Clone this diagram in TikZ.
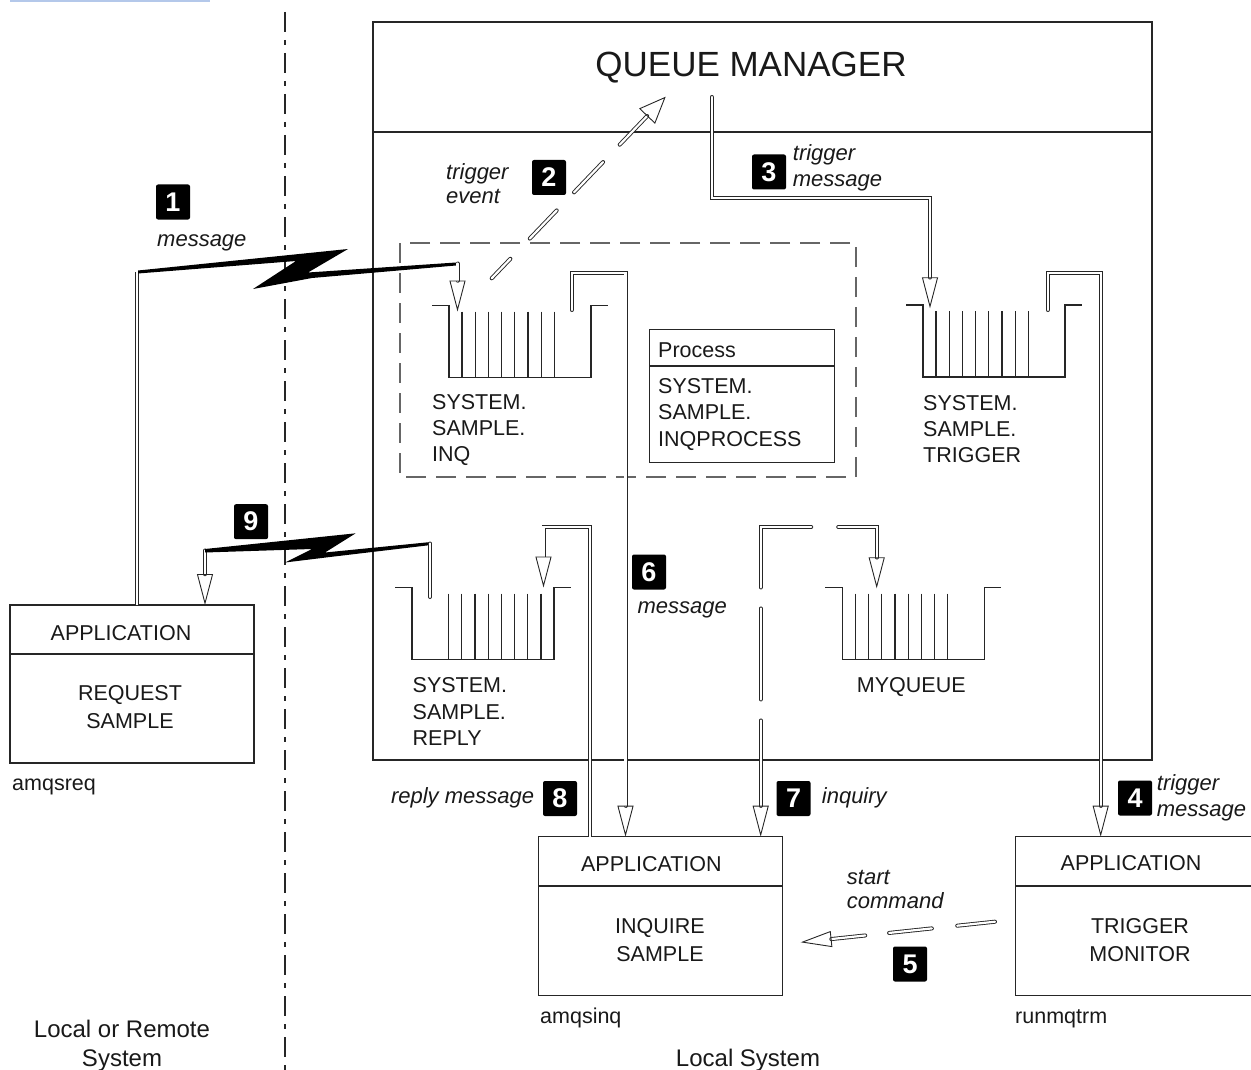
\documentclass[tikz,border=0pt]{standalone}
\usepackage{fontspec}
\setmainfont{Liberation Sans}
\usetikzlibrary{arrows.meta}
\tikzset{
  pics/qleft/.style={code={
    \draw[qline] (-17,0) -- (0,0) -- (0,72) -- (142,72) -- (142,0) -- (159,0);
    \foreach \k in {0,...,7} \draw[qline] (13+13.2*\k,6) -- (13+13.2*\k,72);
  }},
  pics/qright/.style={code={
    \draw[qline] (-17,0) -- (0,0) -- (0,72) -- (142,72) -- (142,0) -- (159,0);
    \foreach \k in {0,...,7} \draw[qline] (129-13.2*\k,6) -- (129-13.2*\k,72);
  }},
}
\begin{document}
\begin{tikzpicture}[x=1pt,y=-1pt,
  qline/.style={line width=1.2pt, draw=black!85},
  appbox/.style={draw=black!85, line width=1.3pt, outer sep=0pt, inner sep=0pt},
  captext/.style={font=\fontsize{21.5}{26}\selectfont, inner sep=0pt, text=black!90},
  itlab/.style={font=\fontsize{22}{26}\selectfont\itshape, inner sep=0pt, text=black!90, anchor=base west},
  bottomtext/.style={font=\fontsize{24}{28}\selectfont, inner sep=0pt, text=black!90, anchor=base},
  dbl/.style={draw=black!85, line width=0.9pt, double=white, double distance=2.2pt, line cap=round},
  hd/.style={-{Triangle[open,length=31pt,width=16pt,line width=0.9pt]}},
  badge/.style={fill=black, rounded corners=2pt, minimum width=34pt, minimum height=35pt, inner sep=0pt, text=white, font=\fontsize{27}{27}\selectfont\bfseries},
]
\useasboundingbox (0,0) rectangle (1251,1070);

% light blue underline at the top
\draw[color={rgb,255:red,180;green,200;blue,234}, line width=1.6pt] (10,0.8) -- (210,0.8);

% dash-dot separator
\coordinate (dd1) at (285,12);
\coordinate (dd2) at (285,1070);
\draw[line width=1.5pt, black!85, dash pattern=on 20pt off 8pt on 5pt off 8pt] (dd1) -- (dd2);

% queue manager box
\node[appbox, minimum width=779pt, minimum height=738pt] (qm) at (762.5,391) {};
\coordinate (qmdiv) at (0,132);
\draw[line width=1.3pt, black!85] (qm.west |- qmdiv) -- (qm.east |- qmdiv);
\node[captext, anchor=base, font=\fontsize{35}{40}\selectfont] (qmt) at (751,76.7) {QUEUE MANAGER};

% dashed group box
\draw[draw=black!60, line width=1.8pt, dash pattern=on 20pt off 10pt] (400,243) rectangle (856,477);

% queues
\pic (inq) at (449,305.7) {qleft};
\pic (trq) at (923,305) {qleft};
\pic (rpq) at (412,587.7) {qright};
\pic (myq) at (842.3,587.7) {qleft};

% process box
\node[appbox, minimum width=185pt, minimum height=133.4pt] (proc) at (741.8,396) {};
\coordinate (procdiv) at (0,366);
\draw[line width=1.3pt, black!85] (proc.west |- procdiv) -- (proc.east |- procdiv);

% application boxes
\node[appbox, minimum width=244pt, minimum height=158pt] (req) at (132,684) {};
\coordinate (reqdiv) at (0,654);
\draw[line width=1.3pt, black!85] (req.west |- reqdiv) -- (req.east |- reqdiv);
\node[appbox, minimum width=244pt, minimum height=159pt] (inqa) at (660.3,916.2) {};
\coordinate (appdiv) at (0,886);
\draw[line width=1.3pt, black!85] (inqa.west |- appdiv) -- (inqa.east |- appdiv);
\node[appbox, minimum width=244pt, minimum height=159pt] (trg) at (1137.3,916.2) {};
\draw[line width=1.3pt, black!85] (trg.west |- appdiv) -- (trg.east |- appdiv);

% ---- connectors ----
% 1 message
\coordinate (b1s) at (137,272);
\draw[dbl, line cap=butt] (b1s |- req.north) -- (b1s);
\fill[black] (138,270.5) -- (348,249) -- (308,272.5) -- (456,262.5) -- (456,265.5) -- (312,278) -- (253,289) -- (296,261) -- (138,273.5) -- cycle;
\coordinate (b1e) at (457.5,263.5);
\coordinate (inqin) at (457.5,311.5);
\draw[dbl, hd] (b1e) -- (inqin);

% 9 reply over the link
\coordinate (b9s) at (205,550.5);
\draw[dbl, hd] (b9s) -- (b9s |- req.north);
\fill[black] (205,549) -- (355.7,533.3) -- (325,552.5) -- (431,542) -- (431,545) -- (330,557) -- (285,562.5) -- (312,549) -- (205,552.5) -- cycle;
\coordinate (b9e) at (430,543.5);
\coordinate (b9q) at (430,597);
\draw[dbl] (b9e) -- (b9q);

% 2 trigger event
\coordinate (a2s) at (491.7,278.3);
\coordinate (a2e) at (665.7,96.7);
\draw[dbl, -{Triangle[open,length=27pt,width=22pt,line width=0.9pt]}, dash pattern=on 27pt off 28pt on 39pt off 25pt on 42pt off 24pt on 100pt] (a2s) -- (a2e);

% 3 trigger message
\coordinate (a3s) at (711.7,97);
\coordinate (a3c) at (930,198.3);
\coordinate (trqin) at (930,308.3);
\draw[dbl, hd] (a3s) |- (a3c) -- (trqin);

% 4 trigger message to trigger monitor
\coordinate (a4s) at (1047.7,310);
\coordinate (a4c) at (1100.7,273.3);
\draw[dbl, hd] (a4s) |- (a4c) -- (a4c |- trg.north);

% 6 message to inquire app
\coordinate (a6s) at (571.7,310);
\coordinate (a6c) at (625.5,273.3);
\draw[dbl, hd] (a6s) |- (a6c) -- (a6c |- inqa.north);

% 8 reply message
\coordinate (a8x) at (590,527);
\coordinate (a8t) at (543.5,527);
\coordinate (rpqin) at (543.5,587.5);
\draw[dbl, hd, line cap=butt] (a8x |- inqa.north) |- (a8t) -- (rpqin);

% 7 inquiry
\coordinate (myqin) at (876.7,588.3);
\coordinate (a7c) at (760.7,527);
\draw[dbl, {Triangle[open,length=31pt,width=16pt,line width=0.9pt]}-{Triangle[open,length=31pt,width=16pt,line width=0.9pt]}, dash pattern=on 69pt off 27pt on 111pt off 21pt on 91pt off 21pt on 200pt] (myqin) |- (a7c) -- (a7c |- inqa.north);

% 5 start command
\coordinate (a5s) at (995,921.7);
\coordinate (a5e) at (800.7,942.3);
\draw[dbl, hd, dash pattern=on 38pt off 25.5pt on 43pt off 24pt on 200pt] (a5s) -- (a5e);

% ---- badges ----
\node[badge] (n1) at (173,202) {1};
\node[badge] (n2) at (549,177.5) {2};
\node[badge] (n3) at (769,172) {3};
\node[badge] (n4) at (1135,798) {4};
\node[badge] (n5) at (910,964) {5};
\node[badge] (n6) at (649,572) {6};
\node[badge] (n7) at (793.5,798.5) {7};
\node[badge] (n8) at (560,798.5) {8};
\node[badge] (n9) at (251,521.7) {9};

% ---- italic labels ----
\node[itlab] (l1) at (157,246.7) {message};
\node[itlab] (l2a) at (446,179.3) {trigger};
\node[itlab] (l2b) at (446,203.3) {event};
\node[itlab] (l3a) at (792.7,160.7) {trigger};
\node[itlab] (l3b) at (792.7,186.7) {message};
\node[itlab] (l6) at (637.3,613.3) {message};
\node[itlab, anchor=base east] (l8) at (534.3,803.3) {reply message};
\node[itlab] (l7) at (821.7,803.3) {inquiry};
\node[itlab] (l4a) at (1156.7,790) {trigger};
\node[itlab] (l4b) at (1156.7,816.7) {message};
\node[itlab] (l5a) at (846.7,884.3) {start};
\node[itlab] (l5b) at (846.7,908.3) {command};

% ---- queue labels ----
\node[captext, anchor=base west] (tq1) at (432,409) {SYSTEM.};
\node[captext, anchor=base west] (tq2) at (432,435) {SAMPLE.};
\node[captext, anchor=base west] (tq3) at (432,461.5) {INQ};
\node[captext, anchor=base west] (tt1) at (923,410) {SYSTEM.};
\node[captext, anchor=base west] (tt2) at (923,436.5) {SAMPLE.};
\node[captext, anchor=base west] (tt3) at (923,462.5) {TRIGGER};
\node[captext, anchor=base west] (tr1) at (412.5,692.3) {SYSTEM.};
\node[captext, anchor=base west] (tr2) at (412.5,719) {SAMPLE.};
\node[captext, anchor=base west] (tr3) at (412.5,745.5) {REPLY};
\node[captext, anchor=base] (tm1) at (911.3,692.3) {MYQUEUE};

% process box text
\node[captext, anchor=base west] (tp0) at (658,357) {Process};
\node[captext, anchor=base west] (tp1) at (658,393.7) {SYSTEM.};
\node[captext, anchor=base west] (tp2) at (658,419.7) {SAMPLE.};
\node[captext, anchor=base west] (tp3) at (658,446.6) {INQPROCESS};

% application box text
\node[captext, anchor=base] (ra) at (121,640) {APPLICATION};
\node[captext, anchor=base] (rb) at (130,700.7) {REQUEST};
\node[captext, anchor=base] (rc) at (130,728.5) {SAMPLE};
\node[captext, anchor=base] (ia) at (651.4,871.5) {APPLICATION};
\node[captext, anchor=base] (ib) at (660,933) {INQUIRE};
\node[captext, anchor=base] (ic) at (660,961.5) {SAMPLE};
\node[captext, anchor=base] (ta) at (1131,870) {APPLICATION};
\node[captext, anchor=base] (tb) at (1140,933) {TRIGGER};
\node[captext, anchor=base] (tc) at (1140,961.5) {MONITOR};

% program names
\node[captext, anchor=base west] (pn1) at (12,790) {amqsreq};
\node[captext, anchor=base west] (pn2) at (540,1023) {amqsinq};
\node[captext, anchor=base west] (pn3) at (1015,1023) {runmqtrm};

% bottom captions
\node[bottomtext] (bl1) at (122,1037) {Local or Remote};
\node[bottomtext] (bl2) at (122,1066) {System};
\node[bottomtext] (bl3) at (748,1066) {Local System};
\end{tikzpicture}
\end{document}
